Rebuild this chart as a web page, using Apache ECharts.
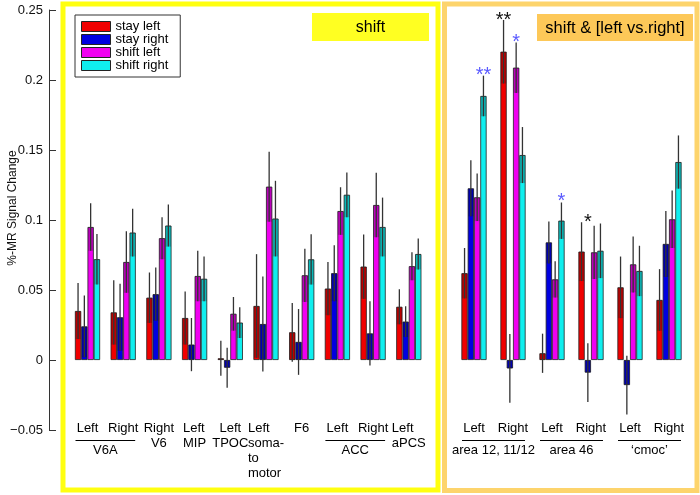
<!DOCTYPE html>
<html><head><meta charset="utf-8">
<script src="https://cdn.jsdelivr.net/npm/echarts@6/dist/echarts.min.js"></script>
<style>html,body{margin:0;padding:0;background:#fff}#c{width:700px;height:495px}</style>
</head><body><div id="c"></div>
<script>
// ---------- data ----------
const seriesNames = ['stay left', 'stay right', 'shift left', 'shift right'];
const seriesColors = ['#f00000', '#0000e0', '#f000f0', '#10eeee'];

const leftLabels = ['Left', 'Right', 'Right\nV6', 'Left\nMIP', 'Left\nTPOC', 'Left\nsoma-\nto\nmotor', 'F6', 'Left', 'Right', 'Left\naPCS'];
const leftLabelAlign = ['c', 'c', 'c', 'l', 'c', 'l', 'c', 'c', 'c', 'l'];
const rightLabels = ['Left', 'Right', 'Left', 'Right', 'Left', 'Right'];

const leftStayLeft   = [0.035, 0.034, 0.0445, 0.030, 0.0012, 0.0386, 0.0198, 0.051, 0.0667, 0.038];
const leftStayRight  = [0.024, 0.0305, 0.047, 0.011, -0.0055, 0.0257, 0.0129, 0.062, 0.019, 0.0274];
const leftShiftLeft  = [0.095, 0.070, 0.087, 0.060, 0.033, 0.1238, 0.0605, 0.1064, 0.1107, 0.067];
const leftShiftRight = [0.072, 0.091, 0.096, 0.058, 0.0267, 0.101, 0.0719, 0.118, 0.095, 0.0757];
const leftStayLeftSE   = [0.020, 0.023, 0.018, 0.019, 0.0125, 0.037, 0.021, 0.019, 0.023, 0.0125];
const leftStayRightSE  = [0.022, 0.024, 0.019, 0.019, 0.0143, 0.034, 0.0235, 0.020, 0.023, 0.011];
const leftShiftLeftSE  = [0.017, 0.022, 0.015, 0.018, 0.012, 0.025, 0.019, 0.017, 0.023, 0.010];
const leftShiftRightSE = [0.018, 0.017, 0.015, 0.016, 0.011, 0.027, 0.018, 0.016, 0.021, 0.011];

const rightStayLeft   = [0.062, 0.2202, 0.0048, 0.0774, 0.0519, 0.0429];
const rightStayRight  = [0.1226, -0.006, 0.084, -0.009, -0.0179, 0.0829];
const rightShiftLeft  = [0.1162, 0.2088, 0.0576, 0.0769, 0.0683, 0.1005];
const rightShiftRight = [0.1886, 0.1464, 0.0995, 0.078, 0.0636, 0.1414];
const rightStayLeftSE   = [0.018, 0.0227, 0.014, 0.021, 0.022, 0.022];
const rightStayRightSE  = [0.020, 0.0245, 0.015, 0.021, 0.021, 0.0236];
const rightShiftLeftSE  = [0.017, 0.018, 0.013, 0.019, 0.020, 0.0205];
const rightShiftRightSE = [0.0145, 0.020, 0.013, 0.0195, 0.018, 0.019];

// significance stars (right panel): category, series, level (y of star), text, colour
const starCats   = [0, 1, 1, 2, 3];
const starSeries = [3, 0, 2, 3, 1];
const starLevels = [0.2071, 0.2464, 0.2307, 0.1166, 0.1021];
const starTexts  = ['**', '**', '*', '*', '*'];
const starColors = ['#5a5aff', '#111111', '#5a5aff', '#5a5aff', '#111111'];

const yTicks = { min: -0.05, max: 0.25, interval: 0.05 };

const groupNames = ['V6A', 'ACC', 'area 12, 11/12', 'area 46', '‘cmoc’'];
const groupAxis  = [0, 0, 1, 1, 1];
const groupFrom  = [0, 7, 0, 2, 4];
const groupTo    = [1, 8, 1, 3, 5];

// ---------- chart ----------
const FONT = '"Liberation Sans", Arial, sans-serif';
const BW = 6.3;
const chart = echarts.init(document.getElementById('c'), null, { renderer: 'canvas' });

const leftMeans = [leftStayLeft, leftStayRight, leftShiftLeft, leftShiftRight];
const leftSEs = [leftStayLeftSE, leftStayRightSE, leftShiftLeftSE, leftShiftRightSE];
const rightMeans = [rightStayLeft, rightStayRight, rightShiftLeft, rightShiftRight];
const rightSEs = [rightStayLeftSE, rightStayRightSE, rightShiftLeftSE, rightShiftRightSE];

function barSeries(axis, means) {
  return means.map((arr, s) => ({
    name: seriesNames[s], type: 'bar', xAxisIndex: axis, yAxisIndex: axis,
    data: arr, barWidth: BW, barGap: '0%',
    itemStyle: { color: seriesColors[s], borderColor: '#222', borderWidth: 0.8 },
    emphasis: { disabled: true }, silent: true, z: 2
  }));
}

function errSeries(axis, means, ses) {
  const data = [];
  means.forEach((arr, s) => arr.forEach((v, c) => data.push([c, v, ses[s][c], s])));
  return {
    type: 'custom', xAxisIndex: axis, yAxisIndex: axis, data, z: 5, silent: true,
    encode: { x: 0, y: 1 },
    renderItem(params, api) {
      const c = api.value(0), v = api.value(1), e = api.value(2), s = api.value(3);
      const x = api.coord([c, 0])[0] + (s - 1.5) * BW;
      const yTop = api.coord([c, v + e])[1], yBot = api.coord([c, v - e])[1];
      const b2 = v >= 0 ? Math.max(0, v - e) : Math.min(0, v + e);
      const p1 = api.coord([c, v])[1], p2 = api.coord([c, b2])[1];
      return {
        type: 'group', children: [
          { type: 'rect', shape: { x: x - BW / 2 + 0.5, y: Math.min(p1, p2), width: BW - 1, height: Math.abs(p2 - p1) },
            style: { fill: 'rgba(0,0,0,0.22)' } },
          { type: 'line', shape: { x1: x, y1: yTop, x2: x, y2: yBot }, style: { stroke: '#333', lineWidth: 1.3 } }
        ]
      };
    }
  };
}

const starSeriesObj = {
  type: 'custom', xAxisIndex: 1, yAxisIndex: 1, z: 6, silent: true,
  data: starCats.map((c, i) => [c, starLevels[i]]),
  encode: { x: 0, y: 1 },
  renderItem(params, api) {
    const i = params.dataIndex;
    const p = api.coord([api.value(0), api.value(1)]);
    const x = p[0] + (starSeries[i] - 1.5) * BW;
    return {
      type: 'text', x: x, y: p[1] + 5,
      style: { text: starTexts[i], fill: starColors[i], font: '20px ' + FONT, textAlign: 'center', textVerticalAlign: 'middle' }
    };
  }
};

function fmtY(v) {
  const s = String(+v.toFixed(2));
  return s.replace('-', '−');
}

const rich = {
  c: { align: 'center', fontSize: 13, lineHeight: 15, fontFamily: FONT, color: '#000' },
  l: { align: 'left', fontSize: 13, lineHeight: 15, fontFamily: FONT, color: '#000' }
};

const option = {
  animation: false,
  backgroundColor: '#fff',
  textStyle: { fontFamily: FONT },
  legend: {
    orient: 'vertical', left: 75, top: 15, data: seriesNames,
    icon: 'rect', itemWidth: 29, itemHeight: 10, itemGap: 0,
    padding: [5, 12, 5, 6], borderColor: '#333', borderWidth: 1, backgroundColor: '#fff',
    itemStyle: { borderColor: '#222', borderWidth: 1 },
    textStyle: { fontSize: 13, lineHeight: 13, color: '#000', fontFamily: FONT },
    selectedMode: false
  },
  grid: [
    { left: 69.65, right: 273.35, top: 10, bottom: 65 },
    { left: 454.5, right: 11.5, top: 10, bottom: 65 }
  ],
  xAxis: [
    { type: 'category', gridIndex: 0, data: leftLabels, offset: -16,
      axisLine: { show: false }, axisTick: { show: false },
      axisLabel: { interval: 0, margin: 7, formatter: (val, idx) => val.split('\n').map(t => '{' + leftLabelAlign[idx] + '|' + t + '}').join('\n'), rich: rich } },
    { type: 'category', gridIndex: 1, data: rightLabels, offset: -16,
      axisLine: { show: false }, axisTick: { show: false },
      axisLabel: { interval: 0, margin: 7, formatter: (val) => '{c|' + val + '}', rich: rich } }
  ],
  yAxis: [
    { type: 'value', gridIndex: 0, min: yTicks.min, max: yTicks.max, interval: yTicks.interval, offset: 20.65,
      axisLine: { show: true, lineStyle: { color: '#333', width: 1 } },
      axisTick: { show: true, inside: true, length: 7, lineStyle: { color: '#333' } },
      splitLine: { show: false },
      axisLabel: { formatter: fmtY, fontSize: 13, color: '#111', margin: 6, fontFamily: FONT } },
    { type: 'value', gridIndex: 1, min: yTicks.min, max: yTicks.max, interval: yTicks.interval, show: false,
      splitLine: { show: false } }
  ],
  series: [
    ...barSeries(0, leftMeans), ...barSeries(1, rightMeans),
    errSeries(0, leftMeans, leftSEs), errSeries(1, rightMeans, rightSEs),
    starSeriesObj
  ]
};
chart.setOption(option);

// ---------- decorations ----------
const graphics = [
  { type: 'rect', shape: { x: 63, y: 4, width: 375, height: 486 }, style: { fill: 'none', stroke: '#ffff10', lineWidth: 5 }, z: 0 },
  { type: 'rect', shape: { x: 444.5, y: 4, width: 252.5, height: 486.5 }, style: { fill: 'none', stroke: '#fdd46c', lineWidth: 5 }, z: 0 },
  { type: 'rect', shape: { x: 312, y: 13, width: 117, height: 28 }, style: { fill: '#ffff22' }, z: 1 },
  { type: 'text', x: 370.5, y: 27.5, style: { text: 'shift', font: '16px ' + FONT, fill: '#000', textAlign: 'center', textVerticalAlign: 'middle' }, z: 2 },
  { type: 'rect', shape: { x: 537, y: 14, width: 156, height: 27 }, style: { fill: '#fdc858' }, z: 1 },
  { type: 'text', x: 615, y: 28, style: { text: 'shift & [left vs.right]', font: '16.5px ' + FONT, fill: '#000', textAlign: 'center', textVerticalAlign: 'middle' }, z: 2 },
  { type: 'text', x: 13, y: 208, rotation: Math.PI / 2, style: { text: '%-MR Signal Change', font: '12px ' + FONT, fill: '#111', textAlign: 'center', textVerticalAlign: 'middle' }, z: 2 }
];
groupNames.forEach((name, i) => {
  const x1 = chart.convertToPixel({ xAxisIndex: groupAxis[i] }, groupFrom[i]) - 12;
  const x2 = chart.convertToPixel({ xAxisIndex: groupAxis[i] }, groupTo[i]) + 12;
  graphics.push({ type: 'line', shape: { x1: x1, y1: 440.5, x2: x2, y2: 440.5 }, style: { stroke: '#000', lineWidth: 1 }, z: 2 });
  graphics.push({ type: 'text', x: (x1 + x2) / 2, y: 450, style: { text: name, font: '13px ' + FONT, fill: '#000', textAlign: 'center', textVerticalAlign: 'middle' }, z: 2 });
});
chart.setOption({ graphic: graphics });
</script>
</body></html>
